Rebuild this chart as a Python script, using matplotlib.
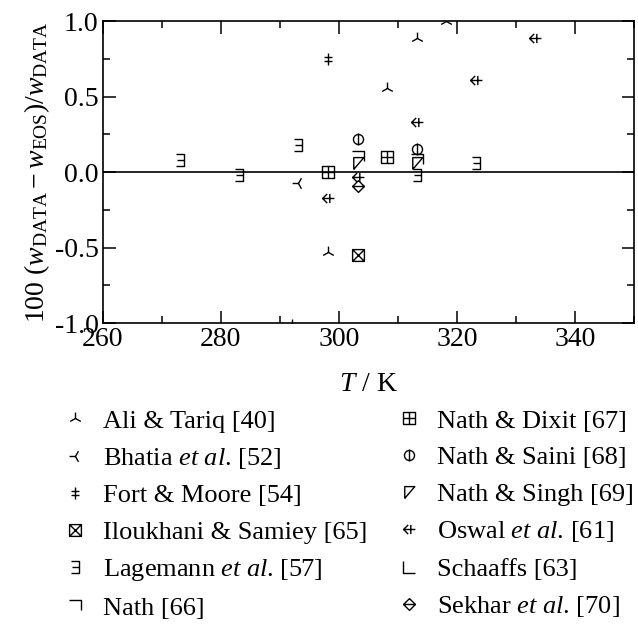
import matplotlib
matplotlib.use("Agg")
import matplotlib.pyplot as plt
from matplotlib.path import Path
from matplotlib.ticker import MultipleLocator, FormatStrFormatter

plt.rcParams['font.family'] = ['Liberation Serif', 'DejaVu Serif']
plt.rcParams['mathtext.fontset'] = 'custom'
plt.rcParams['mathtext.rm'] = 'Liberation Serif'
plt.rcParams['mathtext.it'] = 'Liberation Serif:italic'
plt.rcParams['axes.unicode_minus'] = False

# deviations of the speed-of-sound data from the EOS, per source
labels = ["Ali & Tariq [40]", r"Bhatia $et\ al$. [52]", "Fort & Moore [54]",
          "Iloukhani & Samiey [65]", r"Lagemann $et\ al$. [57]", "Nath [66]",
          "Nath & Dixit [67]", "Nath & Saini [68]", "Nath & Singh [69]",
          r"Oswal $et\ al$. [61]", "Schaaffs [63]", r"Sekhar $et\ al$. [70]"]

T_ali = [298.15, 308.15, 313.15, 318.15]
d_ali = [-0.53, 0.56, 0.89, 1.00]
T_bhatia = [293.15]
d_bhatia = [-0.07]
T_fort = [298.15]
d_fort = [0.75]
T_ilou = [303.15]
d_ilou = [-0.55]
T_lage = [273.15, 283.15, 293.15, 313.15, 323.15]
d_lage = [0.08, -0.02, 0.18, -0.02, 0.06]
T_nath = [303.15, 313.15]
d_nath = [0.10, 0.08]
T_dixit = [298.15, 308.15]
d_dixit = [0.00, 0.10]
T_saini = [303.15, 313.15]
d_saini = [0.22, 0.155]
T_singh = [303.15, 313.15]
d_singh = [0.06, 0.06]
T_oswal = [298.15, 303.15, 313.15, 323.15, 333.15]
d_oswal = [-0.17, -0.03, 0.33, 0.61, 0.89]
T_schaaffs = [293.15]
d_schaaffs = [-1.01]
T_sekhar = [303.15]
d_sekhar = [-0.09]

M, L = Path.MOVETO, Path.LINETO


def segs(*lines):
    verts, codes = [], []
    for line in lines:
        for i, p in enumerate(line):
            verts.append(p)
            codes.append(M if i == 0 else L)
    return Path(verts, codes)


sq = [(-1, -1), (1, -1), (1, 1), (-1, 1), (-1, -1)]
m_ali = segs([(0, 0), (0, 1)], [(-0.9, -0.5), (0, 0), (0.9, -0.5)])
m_bhatia = segs([(0, 0), (-1, 0)], [(0.5, 0.9), (0, 0), (0.5, -0.9)])
m_fort = segs([(0, -1), (0, 1)], [(-0.6, 0.3), (0.6, 0.3)], [(-0.6, -0.3), (0.6, -0.3)])
m_ilou = segs(sq, [(-1, -1), (1, 1)], [(-1, 1), (1, -1)])
m_lage = segs([(-0.7, 1), (0.7, 1), (0.7, -1), (-0.7, -1)], [(-0.5, 0), (0.7, 0)])
m_nath = segs([(-1, 1), (1, 1), (1, -0.6)])
m_dixit = segs(sq, [(0, -1), (0, 1)], [(-1, 0), (1, 0)])
circ = Path.circle((0, 0), 0.85)
m_saini = Path.make_compound_path(circ, segs([(0, -1), (0, 1)]))
m_singh = segs([(-0.8, -1), (-0.8, 1), (0.9, 1), (-0.8, -1)])
m_oswal = segs([(-0.2, 0.7), (-0.9, 0), (-0.2, -0.7)], [(-0.9, 0), (0.9, 0)],
               [(0.2, -0.7), (0.2, 0.7)])
m_schaaffs = segs([(-1, 1), (-1, -1), (1, -1)])
m_sekhar = segs([(0, 1), (1, 0), (0, -1), (-1, 0), (0, 1)], [(-1, 0), (1, 0)])

series = [(T_ali, d_ali, m_ali), (T_bhatia, d_bhatia, m_bhatia),
          (T_fort, d_fort, m_fort), (T_ilou, d_ilou, m_ilou),
          (T_lage, d_lage, m_lage), (T_nath, d_nath, m_nath),
          (T_dixit, d_dixit, m_dixit), (T_saini, d_saini, m_saini),
          (T_singh, d_singh, m_singh), (T_oswal, d_oswal, m_oswal),
          (T_schaaffs, d_schaaffs, m_schaaffs), (T_sekhar, d_sekhar, m_sekhar)]

fig = plt.figure(figsize=(6.38, 6.25), dpi=100)
ax = fig.add_axes([0.161, 0.483, 0.833, 0.483])

for (t, d, m), lab in zip(series, labels):
    ax.plot(t, d, linestyle='none', marker=m, markersize=8.5,
            markerfacecolor='none', markeredgecolor='black',
            markeredgewidth=1.0, label=lab)

ax.axhline(0, color='black', linewidth=1.2, zorder=0)

ax.set_xlim(260, 350)
ax.set_ylim(-1.0, 1.0)
ax.xaxis.set_major_locator(MultipleLocator(20))
ax.xaxis.set_minor_locator(MultipleLocator(10))
ax.yaxis.set_major_locator(MultipleLocator(0.5))
ax.yaxis.set_minor_locator(MultipleLocator(0.25))
ax.yaxis.set_major_formatter(FormatStrFormatter('%.1f'))
ax.tick_params(which='both', direction='in', top=True, right=True,
               labelsize=20, width=1.1, pad=3)
ax.tick_params(which='major', length=9)
ax.tick_params(which='minor', length=5)
for s in ax.spines.values():
    s.set_linewidth(1.2)

ax.set_xlabel(r'$T$ / K', fontsize=20, labelpad=14)
ax.set_ylabel(r'100 ($w_{\rm DATA} - w_{\rm EOS}$)/$w_{\rm DATA}$', fontsize=20,
              labelpad=2)

ax.legend(loc='upper left', bbox_to_anchor=(-0.094, -0.25), ncol=2,
          frameon=False, fontsize=19, markerscale=1.0, handlelength=0.9,
          handletextpad=0.6, columnspacing=1.15, labelspacing=0.5,
          borderaxespad=0)

fig.savefig('out.png', dpi=100)
